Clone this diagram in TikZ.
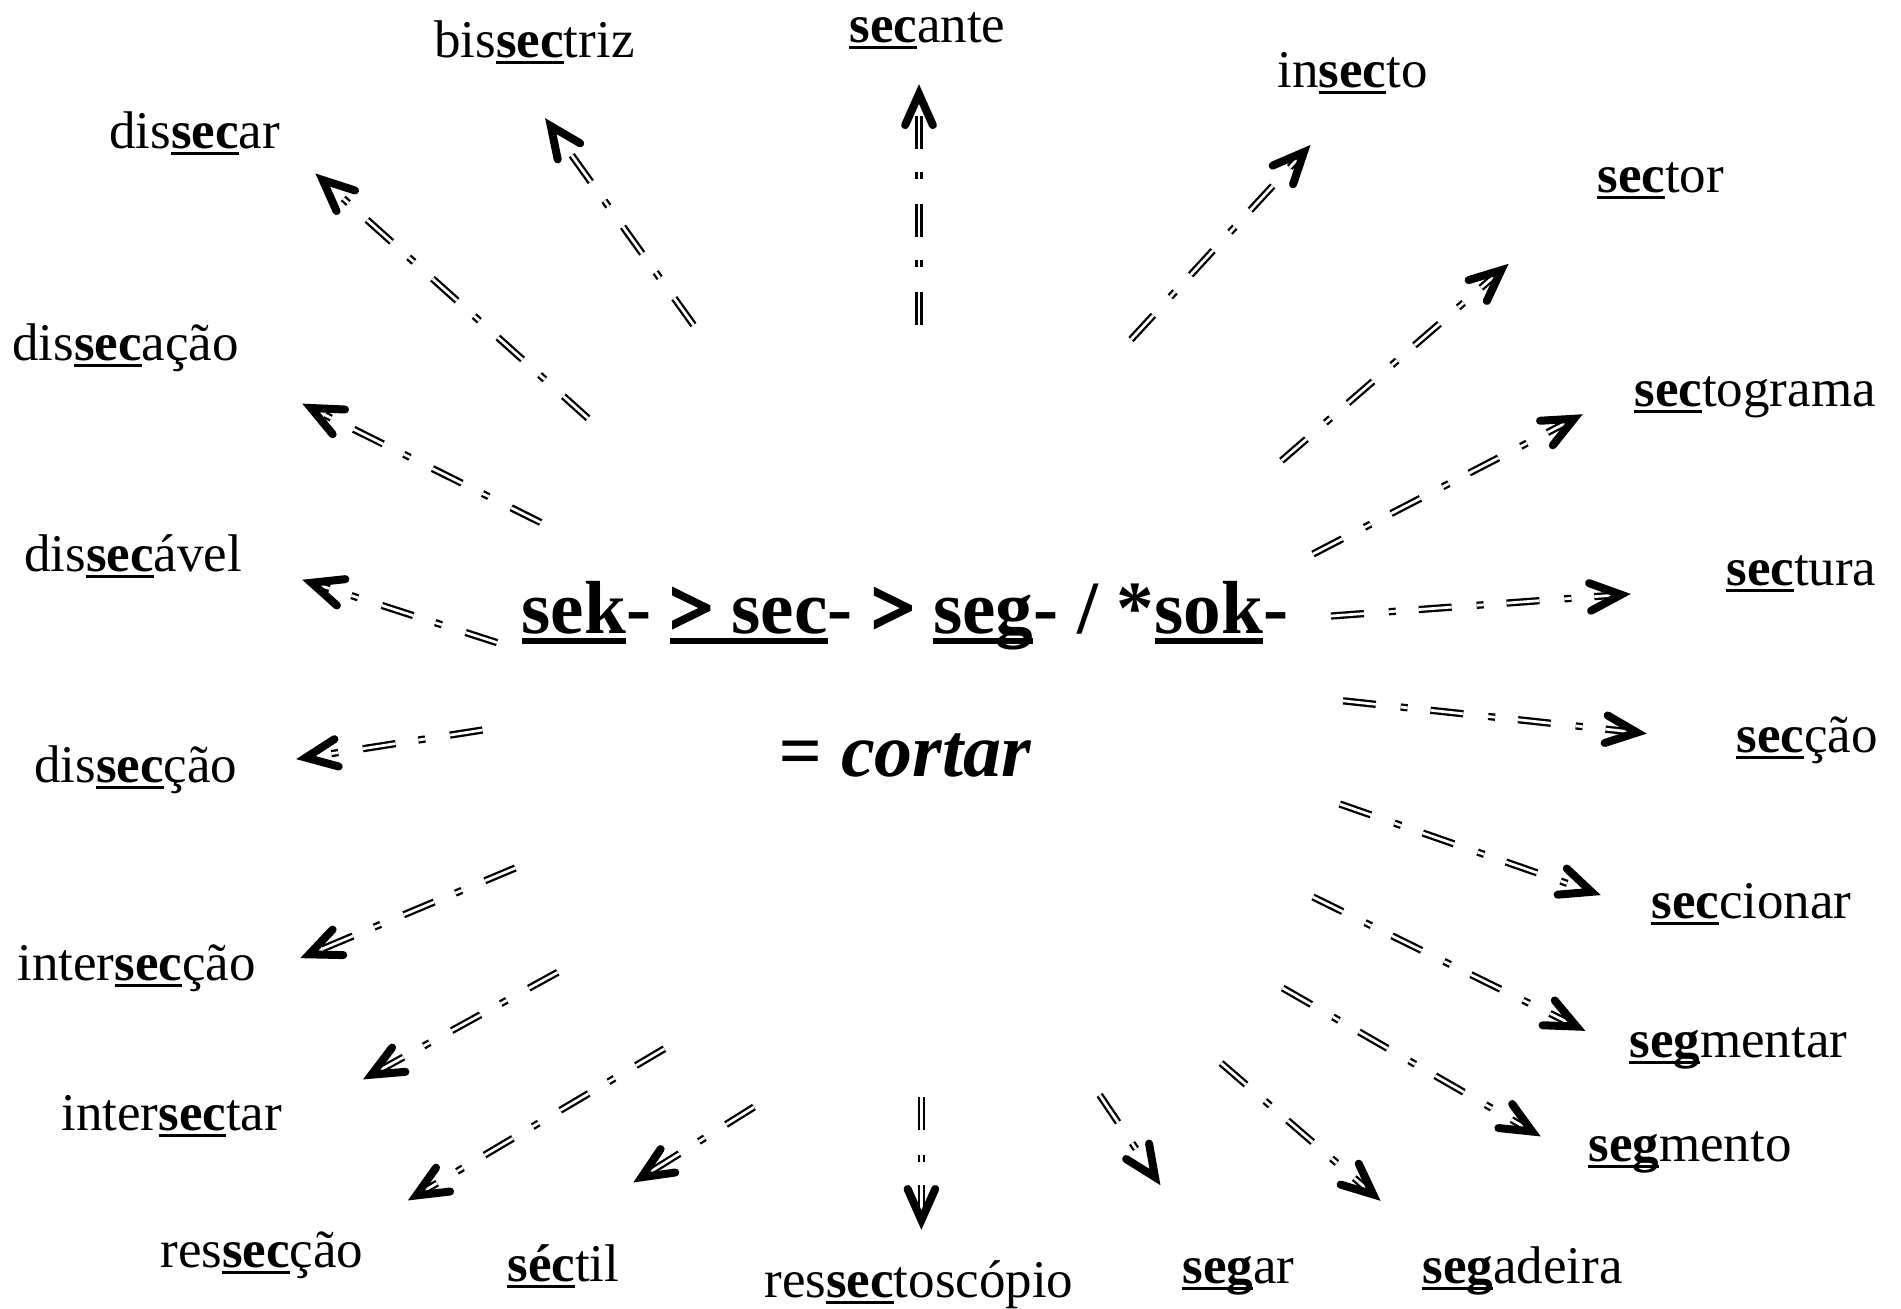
\documentclass[tikz,border=0pt]{standalone}
\usepackage{fontspec}
\setmainfont{Liberation Serif}
\usetikzlibrary{calc}
\newcommand{\ulx}[2][0.06em]{\setbox0=\hbox{#2}\leavevmode\rlap{\rule[-0.14em]{\wd0}{#1}}\box0}
\newcommand{\rt}[1]{\ulx{\textbf{#1}}}
\newcommand{\rtc}[1]{\ulx[0.08em]{#1}}
\newcommand{\heavygt}{\special{pdf:literal direct 2 Tr 1.6 w}>\special{pdf:literal direct 0 Tr 0.4 w}}
\tikzset{
  lab/.style={anchor=base west, inner sep=0pt, font=\fontsize{26.5pt}{30pt}\selectfont},
  shaft/.style={draw=black, line width=1.15pt, double=white, double distance=1.35pt,
    dash pattern=on 16.5pt off 12.5pt on 3.5pt off 11.5pt},
  tipv/.style={draw=black, line width=4pt, line cap=round, line join=miter, miter limit=10}
}
\newcommand{\sarrow}[2]{%
  \coordinate (v) at ($(#2)!4.5pt!(#1)$);
  \draw[shaft] (#1) -- ($(v)!2pt!(#1)$);
  \draw[tipv] ($(v)!17pt!24:(#1)$) -- (v) -- ($(v)!17pt!-24:(#1)$);}
\begin{document}
\begin{tikzpicture}[x=0.5pt,y=-0.5pt]
\useasboundingbox (0,0) rectangle (1901,1308);
% centre
\node[anchor=base, inner sep=0pt, font=\fontsize{37.6pt}{44pt}\selectfont\bfseries] (root) at (905,633)
  {\rtc{sek}- \rtc{\heavygt{} sec}- \heavygt{} \rtc{seg}- / *\rtc{sok}-};
\node[anchor=base, inner sep=0pt, font=\fontsize{38pt}{44pt}\selectfont\bfseries\itshape] (mean) at (905,776)
  {= cortar};
% labels
\node[lab] (w1) at (434,57) {bis\rt{sec}triz};
\node[lab] (w2) at (849,42) {\rt{sec}ante};
\node[lab] (w3) at (1277,87) {in\rt{sec}to};
\node[lab] (w4) at (109,148) {dis\rt{sec}ar};
\node[lab] (w5) at (1597,192) {\rt{sec}tor};
\node[lab] (w6) at (12,360) {dis\rt{sec}ação};
\node[lab] (w7) at (1634,406) {\rt{sec}tograma};
\node[lab] (w8) at (24,571) {dis\rt{sec}ável};
\node[lab] (w9) at (1726,585) {\rt{sec}tura};
\node[lab] (w10) at (34,782) {dis\rt{sec}ção};
\node[lab] (w11) at (1736,752) {\rt{sec}ção};
\node[lab] (w12) at (1651,918) {\rt{sec}cionar};
\node[lab] (w13) at (17,980) {inter\rt{sec}ção};
\node[lab] (w14) at (1629,1057) {\rt{seg}mentar};
\node[lab] (w15) at (61,1130) {inter\rt{sec}tar};
\node[lab] (w16) at (1588,1161) {\rt{seg}mento};
\node[lab] (w17) at (160,1267) {res\rt{sec}ção};
\node[lab] (w18) at (507,1281) {\rt{séc}til};
\node[lab] (w19) at (764,1297) {res\rt{sec}toscópio};
\node[lab] (w20) at (1182,1283) {\rt{seg}ar};
\node[lab] (w21) at (1422,1283) {\rt{seg}adeira};
% arrow ends
\coordinate (s1) at (693.5,325);   \coordinate (t1) at (545.6,118.8);
\coordinate (s2) at (919,325);     \coordinate (t2) at (919,85);
\coordinate (s3) at (1131,339.5);  \coordinate (t3) at (1310,145.5);
\coordinate (s4) at (588,418.3);   \coordinate (t4) at (316,174);
\coordinate (s5) at (1281.5,460.7);\coordinate (t5) at (1508,264.3);
\coordinate (s6) at (540.7,522.5); \coordinate (t6) at (303,404);
\coordinate (s7) at (1313,554);    \coordinate (t7) at (1582,414.6);
\coordinate (s8) at (497,642.6);   \coordinate (t8) at (303,580);
\coordinate (s9) at (1331,616);    \coordinate (t9) at (1630,594);
\coordinate (s10) at (482.5,730);  \coordinate (t10) at (297,759);
\coordinate (s11) at (1343,700.8); \coordinate (t11) at (1646,733.5);
\coordinate (s12) at (1339.7,804); \coordinate (t12) at (1600,894.8);
\coordinate (s13) at (515.3,868);  \coordinate (t13) at (301,957.8);
\coordinate (s14) at (1313,897);   \coordinate (t14) at (1584.6,1030.5);
\coordinate (s15) at (557.7,972.3);\coordinate (t15) at (363.7,1079);
\coordinate (s16) at (1282.7,988); \coordinate (t16) at (1540,1136);
\coordinate (s17) at (664.4,1048.7);\coordinate (t17) at (408.6,1200);
\coordinate (s18) at (754,1107);   \coordinate (t18) at (634,1182);
\coordinate (s19) at (921.4,1097.2);\coordinate (t19) at (921.4,1229);
\coordinate (s20) at (1099.6,1095);\coordinate (t20) at (1160,1184.5);
\coordinate (s21) at (1221,1063);  \coordinate (t21) at (1380,1200.3);
\foreach \i in {1,...,21}{\sarrow{s\i}{t\i}}
\end{tikzpicture}
\end{document}
